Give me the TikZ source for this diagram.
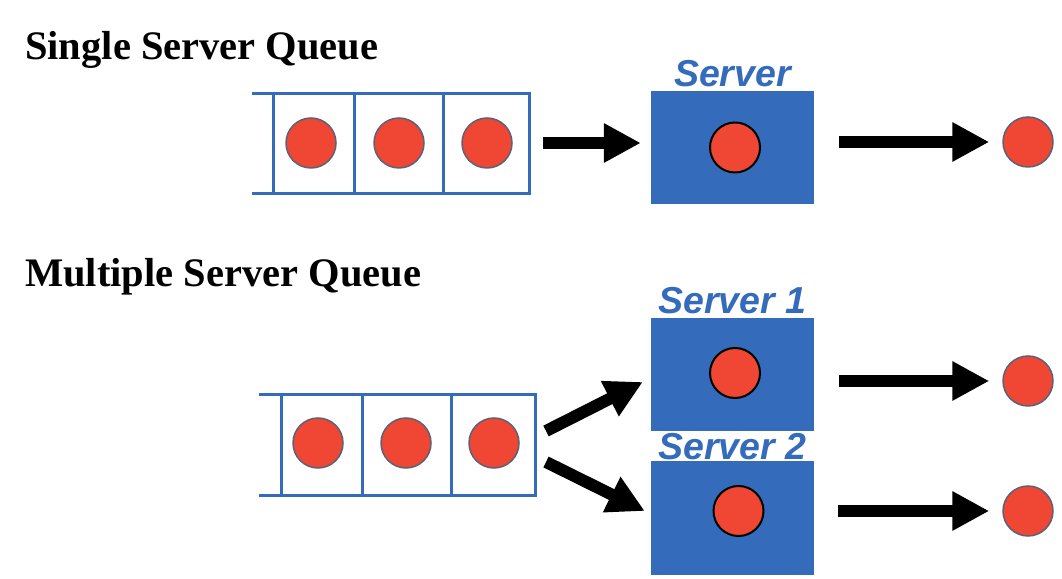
\documentclass[tikz,border=0pt]{standalone}
\usepackage{fontspec}
\setmainfont{Liberation Serif}
\newfontfamily\labelfont{Liberation Sans}
\usetikzlibrary{arrows.meta,positioning}
\definecolor{qblue}{RGB}{52,107,186}
\definecolor{ballred}{RGB}{240,70,52}
\definecolor{ballgray}{RGB}{90,98,120}
\tikzset{
  queueball/.style={circle, fill=ballred, draw=ballgray, line width=1.5pt, minimum size=50pt, inner sep=0pt},
  serverball/.style={queueball, draw=black, line width=2pt},
  serverbox/.style={rectangle, fill=qblue, minimum width=163pt, minimum height=113pt, inner sep=0pt},
  serverlabel/.style={font=\labelfont\bfseries\itshape\fontsize{37.5}{40}\selectfont, text=qblue, inner sep=0pt, anchor=base},
  titletext/.style={font=\bfseries\fontsize{40.5}{44}\selectfont, inner sep=0pt, anchor=base west},
  bigarrow/.style={line width=12pt, -{Triangle[length=37pt,width=37pt]}},
  queueline/.style={draw=qblue, line width=3pt}
}
\begin{document}
\begin{tikzpicture}[x=1pt,y=1pt]
    \useasboundingbox (0,0) rectangle (1062,578);

    % Titles
    \node[titletext] (singletitle) at (25,518) {Single Server Queue};
    \node[titletext] (multititle) at (25,291) {Multiple Server Queue};

    % Top diagram: one server
    \begin{scope}
        % Queue
        \draw[queueline] (252,484) -- (529,484) -- (529,384) -- (252,384);
        \foreach \x in {273,354,443} {
            \draw[queueline] (\x,484) -- (\x,384);
        }
        \coordinate (qendA) at (529,435);
        \foreach \x/\n in {311/1,399/2,487/3} {
            \node[queueball] (qa\n) at (\x,435) {};
        }

        % Server
        \node[serverbox] (srv) at (732.5,430.5) {};
        \node[serverball] (srvball) at ([xshift=2.5pt]srv.center) {};
        \node[serverlabel] (srvlabel) at ([yshift=4pt]srv.north) {Server};

        % Done
        \node[queueball] (outA) at (1028,436) {};

        % Arrows
        \draw[bigarrow, shorten <=14pt, shorten >=10pt] (qendA) -- (srv.west |- qendA);
        \draw[bigarrow, shorten <=25pt, shorten >=13pt] (srv.east |- outA) -- (outA.west);
    \end{scope}

    % Bottom diagram: two servers
    \begin{scope}
        % Queue
        \draw[queueline] (259,183) -- (535,183) -- (535,82) -- (259,82);
        \foreach \x in {281,362,451} {
            \draw[queueline] (\x,183) -- (\x,82);
        }
        \coordinate (qendB) at (535,133);
        \foreach \x/\n in {318/1,406/2,494/3} {
            \node[queueball] (qb\n) at (\x,135) {};
        }

        % Servers
        \node[serverbox] (srva) at (732.5,203.5) {};
        \node[serverball] (srvaball) at ([shift={(2.5pt,1.5pt)}]srva.center) {};
        \node[serverlabel] (srvalabel) at ([yshift=4pt]srva.north) {Server 1};

        \node[serverbox] (srvb) at (732.5,60) {};
        \node[serverball] (srvbball) at ([shift={(6pt,7pt)}]srvb.center) {};
        \node[serverlabel] (srvblabel) at ([yshift=2pt]srvb.north) {Server 2};

        % Done
        \node[queueball] (outB1) at (1028,197) {};
        \node[queueball] (outB2) at (1028,67) {};

        % Arrows
        \draw[bigarrow] ([shift={(11pt,14pt)}]qendB) -- ([shift={(-8pt,-7.5pt)}]srva.west);
        \draw[bigarrow] ([shift={(11pt,-17pt)}]qendB) -- ([shift={(-6pt,7pt)}]srvb.west);
        \draw[bigarrow, shorten <=25pt, shorten >=13pt] (srva.east |- outB1) -- (outB1.west);
        \draw[bigarrow, shorten <=24pt, shorten >=13pt] (srvb.east |- outB2) -- (outB2.west);
    \end{scope}
\end{tikzpicture}
\end{document}
